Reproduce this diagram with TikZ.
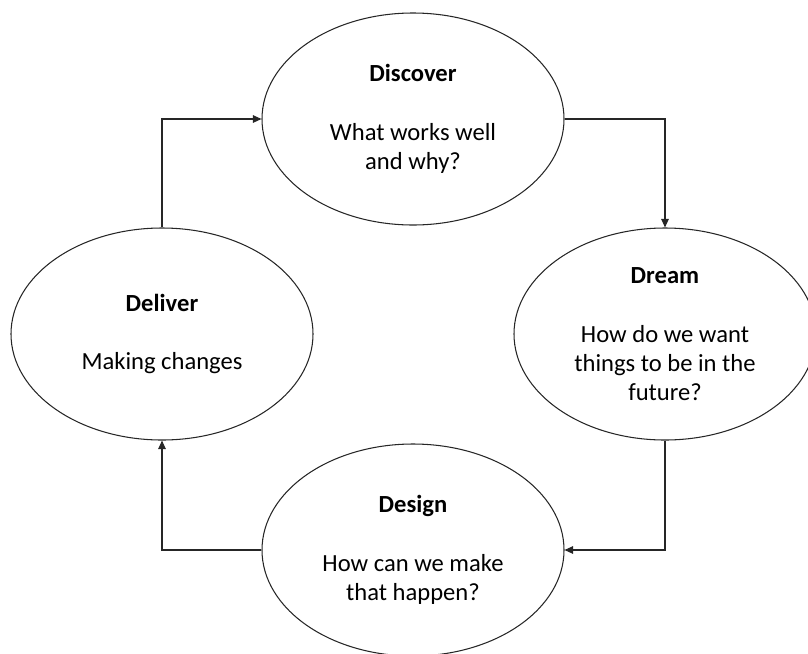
\documentclass[tikz,border=0pt]{standalone}
\usepackage{fontspec}
\setmainfont{Carlito}
\usetikzlibrary{shapes.geometric,arrows.meta}

\begin{document}
\begin{tikzpicture}
  [x=0.2mm,y=-0.2mm,line width=0.6pt,
   every node/.style={ellipse,draw=black!85,line width=0.6pt,minimum width=302*0.2mm,minimum height=212*0.2mm,inner sep=0pt,align=center,font=\fontsize{14}{16.5}\selectfont},
   flecha/.style={-{Triangle[length=1.7mm,width=1.5mm]},draw=black!85}]
  \useasboundingbox (0,0) rectangle (808,653);

  \node (dis) at (413,119) {\textbf{Discover}\\[17pt]What works well\\and why?};
  \node (dre) at (665,334) {\textbf{Dream}\\[17pt]How do we want\\things to be in the\\future?};
  \node (des) at (413,550) {\textbf{Design}\\[17pt]How can we make\\that happen?};
  \node (del) at (162,334) {\textbf{Deliver}\\[17pt]Making changes};

  % Flechas del ciclo
  \foreach \from/\to in {dis.east/dre.north,des.west/del.south}
    \draw[flecha] (\from) -| (\to);
  \foreach \from/\to in {dre.south/des.east,del.north/dis.west}
    \draw[flecha] (\from) |- (\to);

\end{tikzpicture}
\end{document}
